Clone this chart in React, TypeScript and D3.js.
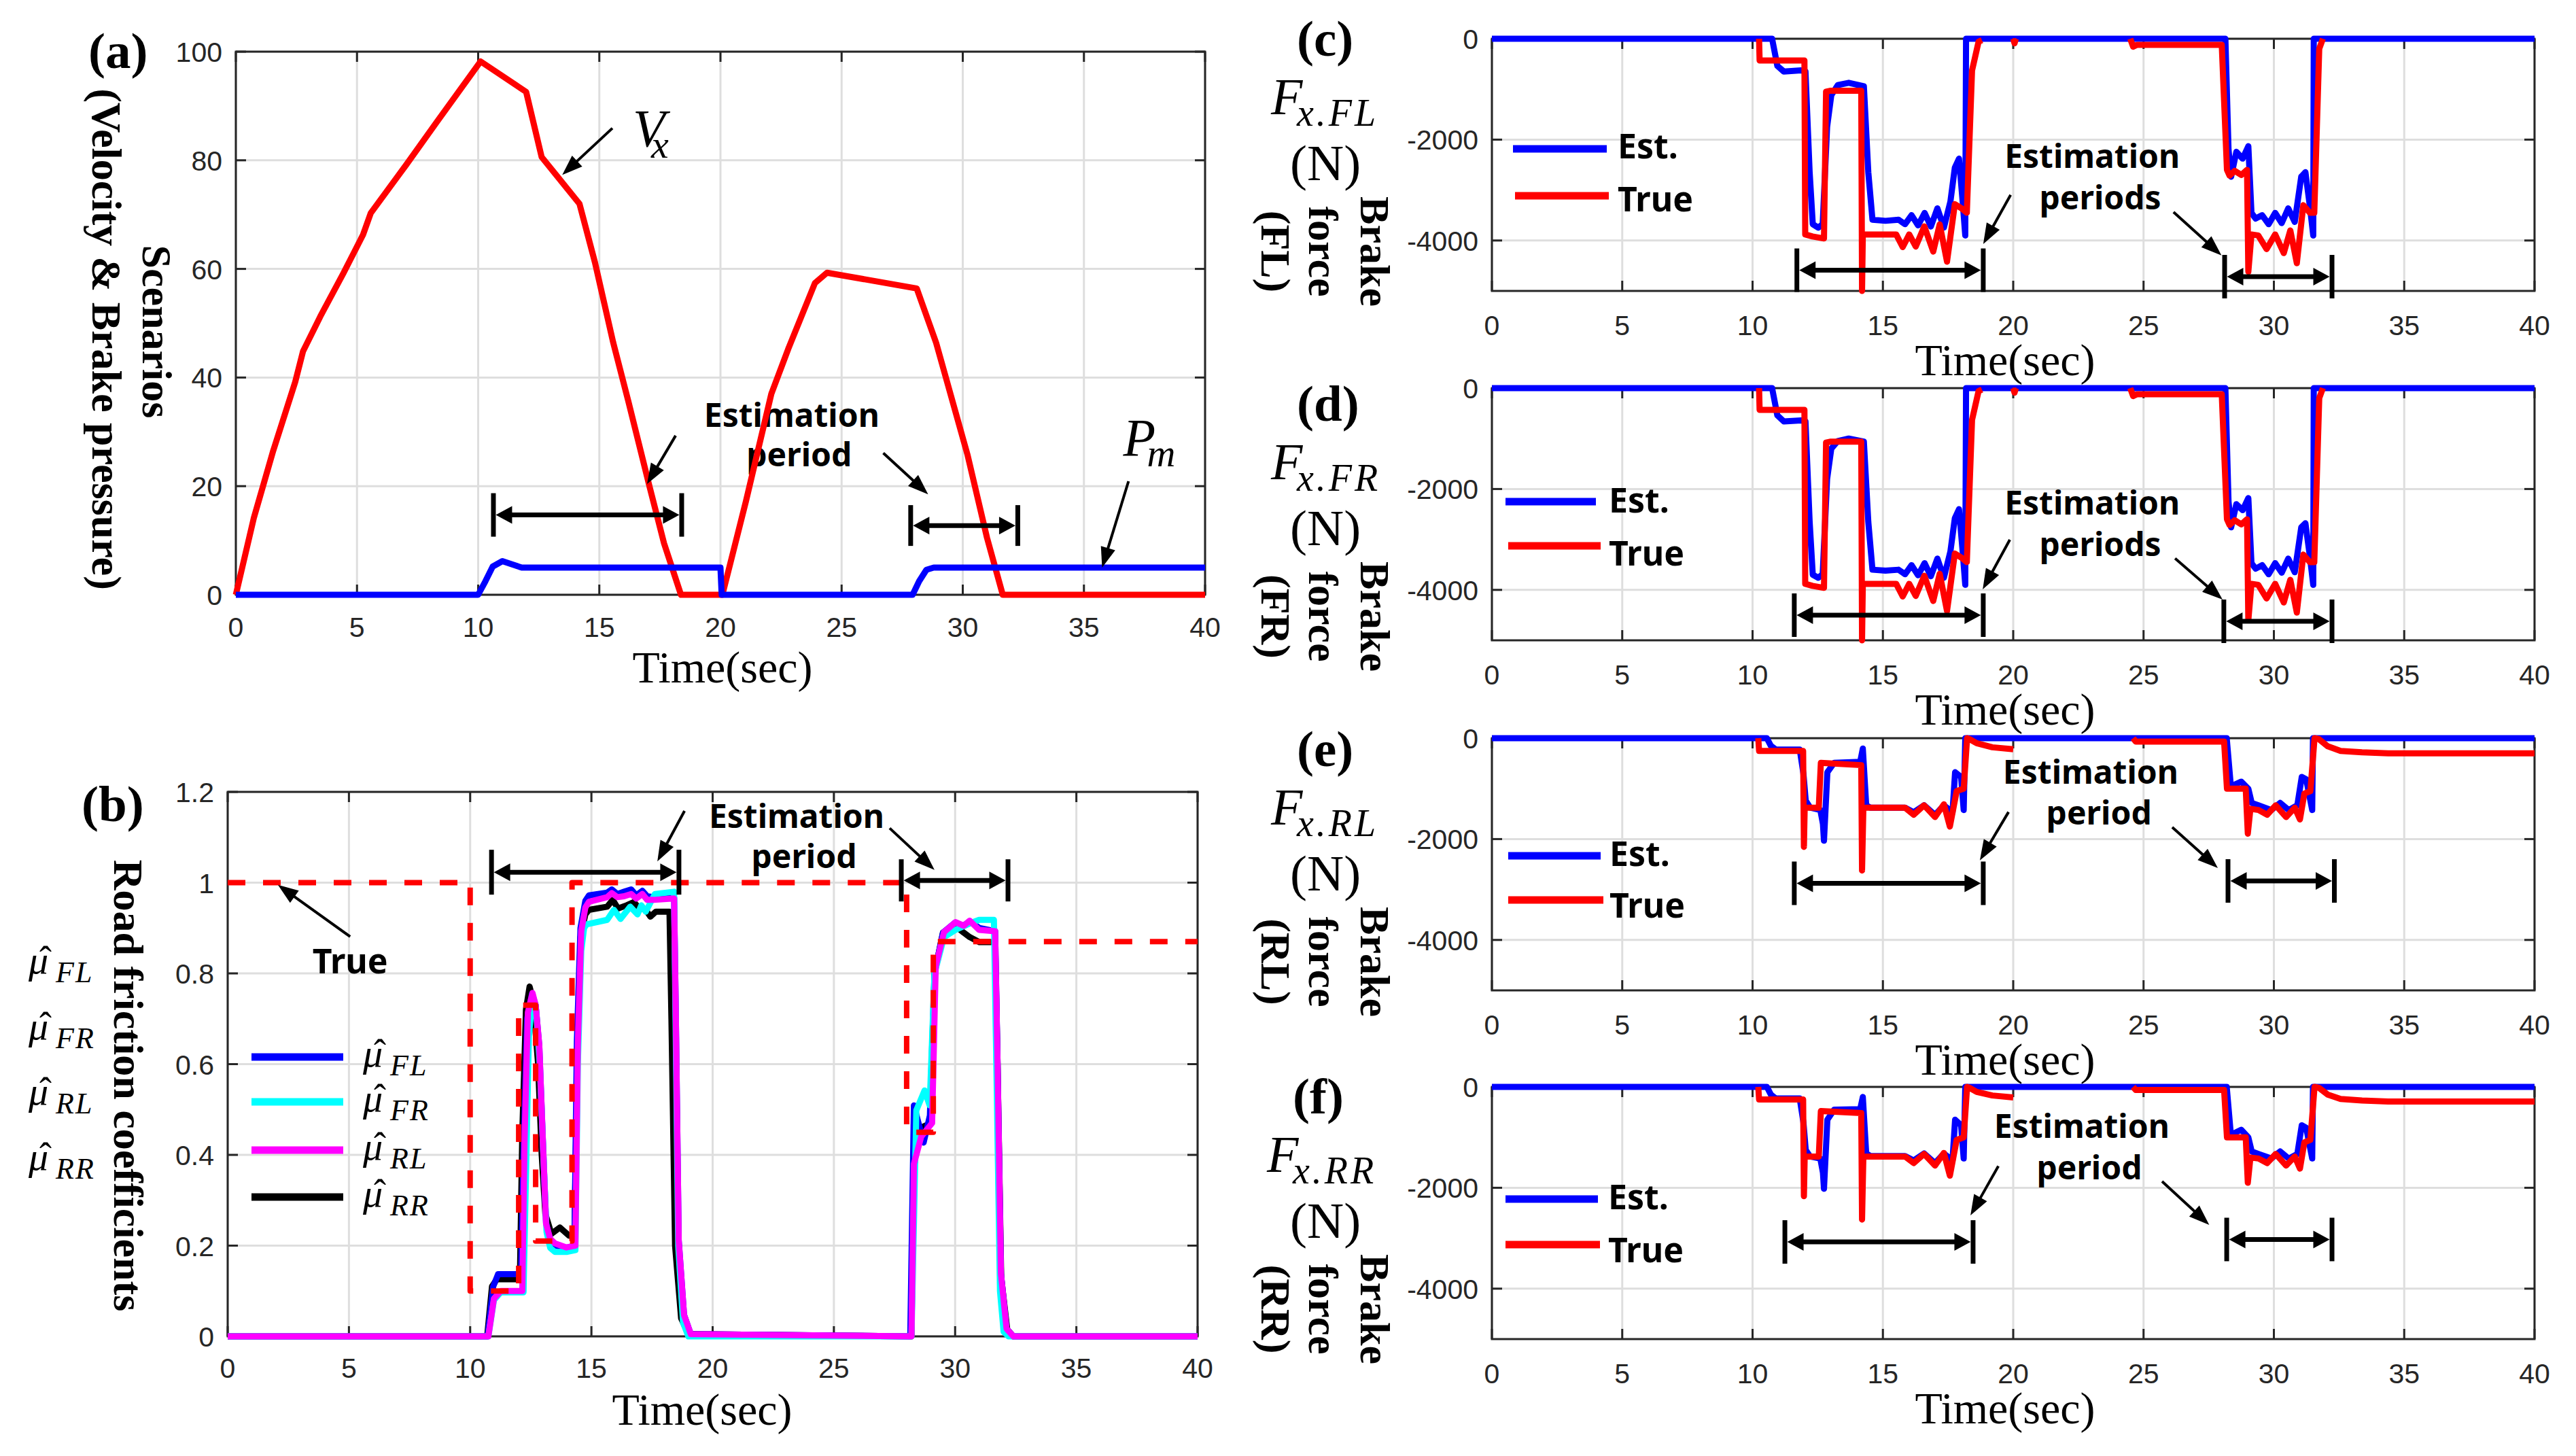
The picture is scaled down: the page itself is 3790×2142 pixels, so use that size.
import React from "react";
import * as d3 from "d3";

// ---------- tick values ----------
const timeTicks = [0, 5, 10, 15, 20, 25, 30, 35, 40];
const scenTicks = [0, 20, 40, 60, 80, 100];
const muTicks = [0, 0.2, 0.4, 0.6, 0.8, 1, 1.2];
const forceTicks = [-4000, -2000, 0];

// ---------- (a) scenario ----------
const vxTime = [0, 0.74, 1.54, 2.45, 2.77, 3.48, 4.44, 5.25, 5.57, 7.02, 8.3, 10.1, 11.98, 12.62, 14.18, 14.82, 15.57, 16.2, 17.08, 17.67, 18.37, 20.08, 21.05, 22.1, 22.8, 23.9, 24.4, 28.1, 28.9, 30.2, 31.0, 31.65, 40];
const vxValue = [0, 14.1, 26.5, 39.2, 44.8, 51.2, 59.2, 66.3, 70.3, 79.1, 87.1, 98.2, 92.6, 80.6, 72.0, 61.2, 46.5, 35.6, 19.8, 9.5, 0, 0, 17.2, 37, 45.3, 57.4, 59.3, 56.4, 46.4, 25.7, 10.5, 0, 0];
const pmTime = [0, 10.0, 10.3, 10.6, 11.0, 11.4, 11.8, 20.0, 20.05, 27.93, 28.2, 28.5, 28.8, 40];
const pmValue = [0, 0, 2.5, 5.2, 6.2, 5.6, 5.0, 5.0, 0, 0, 2.5, 4.6, 5.0, 5.0];

// ---------- (b) friction ----------
const muTrueTime = [0, 10, 10, 12, 12, 12.7, 12.7, 14.2, 14.2, 28, 28, 29.1, 29.1, 40];
const muTrueValue = [1, 1, 0.1, 0.1, 0.73, 0.73, 0.21, 0.21, 1, 1, 0.45, 0.45, 0.87, 0.87];

const muRRTime = [0, 10.7, 10.9, 11.1, 12.05, 12.15, 12.3, 12.45, 12.6, 12.8, 12.95, 13.1, 13.35, 13.7, 14.08, 14.3, 14.42, 14.55, 14.75, 14.9, 15.65, 15.88, 16.1, 16.45, 16.75, 16.95, 17.24, 17.43, 17.66, 18.22, 18.3, 18.45, 18.7, 19.0, 28.2, 28.3, 28.6, 29.0, 29.15, 29.5, 30.0, 30.35, 30.6, 31.0, 31.65, 31.75, 31.9, 32.15, 32.4, 40];
const muRRValue = [0, 0, 0.11, 0.126, 0.126, 0.45, 0.72, 0.771, 0.74, 0.6, 0.4, 0.27, 0.226, 0.24, 0.222, 0.22, 0.6, 0.88, 0.93, 0.94, 0.947, 0.962, 0.943, 0.95, 0.957, 0.945, 0.94, 0.925, 0.936, 0.936, 0.7, 0.2, 0.04, 0.005, 0, 0.42, 0.46, 0.47, 0.8, 0.89, 0.905, 0.89, 0.88, 0.869, 0.869, 0.6, 0.13, 0.015, 0, 0];

const muFLTime = [0, 10.72, 10.95, 11.15, 12.1, 12.2, 12.35, 12.55, 12.7, 12.85, 13.0, 13.13, 13.3, 13.5, 13.97, 14.3, 14.4, 14.55, 14.75, 14.9, 15.65, 15.84, 16.07, 16.35, 16.64, 16.85, 17.1, 17.3, 17.57, 18.41, 18.48, 18.6, 18.82, 19.1, 28.15, 28.3, 28.7, 28.96, 29.15, 29.5, 30.0, 30.35, 30.6, 31.0, 31.65, 31.75, 31.89, 32.12, 32.4, 40];
const muFLValue = [0, 0, 0.11, 0.137, 0.137, 0.4, 0.7, 0.755, 0.73, 0.64, 0.43, 0.25, 0.212, 0.2, 0.195, 0.2, 0.65, 0.9, 0.96, 0.972, 0.978, 0.985, 0.975, 0.98, 0.985, 0.972, 0.982, 0.97, 0.968, 0.968, 0.714, 0.212, 0.047, 0.005, 0, 0.509, 0.427, 0.487, 0.8, 0.89, 0.912, 0.905, 0.915, 0.9, 0.893, 0.6, 0.138, 0.017, 0, 0];

const muFRTime = [0, 10.75, 10.98, 11.26, 12.2, 12.3, 12.42, 12.57, 12.72, 12.87, 13.02, 13.15, 13.3, 13.5, 13.97, 14.34, 14.44, 14.58, 14.7, 14.8, 15.65, 15.93, 16.2, 16.6, 16.9, 17.06, 17.24, 17.62, 18.41, 18.47, 18.58, 18.78, 19.0, 28.2, 28.4, 28.74, 28.95, 29.15, 29.54, 30.02, 30.6, 30.99, 31.6, 31.7, 31.85, 32.0, 32.2, 40];
const muFRValue = [0, 0, 0.08, 0.097, 0.097, 0.35, 0.66, 0.75, 0.72, 0.6, 0.4, 0.23, 0.195, 0.186, 0.186, 0.19, 0.6, 0.85, 0.9, 0.908, 0.918, 0.94, 0.92, 0.947, 0.93, 0.95, 0.936, 0.975, 0.98, 0.7, 0.2, 0.03, 0, 0, 0.498, 0.542, 0.509, 0.8, 0.88, 0.896, 0.91, 0.918, 0.918, 0.6, 0.1, 0.01, 0, 0];

const muRLTime = [0, 10.75, 10.98, 11.26, 12.15, 12.24, 12.38, 12.57, 12.7, 12.85, 13.0, 13.13, 13.3, 13.5, 13.97, 14.34, 14.44, 14.58, 14.75, 14.9, 15.65, 15.84, 16.07, 16.35, 16.64, 16.85, 17.1, 17.3, 17.57, 18.41, 18.48, 18.6, 18.82, 19.1, 28.2, 28.3, 28.6, 29.05, 29.2, 29.54, 30.02, 30.35, 30.6, 30.99, 31.65, 31.75, 31.89, 32.12, 32.4, 40];
const muRLValue = [0, 0, 0.083, 0.1, 0.1, 0.427, 0.714, 0.757, 0.73, 0.642, 0.427, 0.248, 0.215, 0.205, 0.196, 0.2, 0.642, 0.893, 0.945, 0.958, 0.968, 0.977, 0.968, 0.97, 0.975, 0.965, 0.975, 0.962, 0.962, 0.965, 0.714, 0.212, 0.047, 0.005, 0, 0.38, 0.44, 0.47, 0.815, 0.891, 0.913, 0.905, 0.916, 0.896, 0.893, 0.6, 0.138, 0.017, 0, 0];

// ---------- (c) FL brake force ----------
const fxFLEstTime = [0, 10.75, 10.95, 11.2, 11.86, 12.03, 12.19, 12.31, 12.52, 12.69, 12.86, 13.02, 13.27, 13.69, 14.27, 14.44, 14.6, 15.1, 15.6, 15.85, 16.1, 16.35, 16.6, 16.84, 17.09, 17.34, 17.59, 17.76, 17.92, 18.06, 18.16, 18.19, 28.14, 28.26, 28.36, 28.56, 28.8, 29.02, 29.14, 29.3, 29.55, 29.8, 30.05, 30.3, 30.55, 30.8, 31.05, 31.21, 31.38, 31.51, 31.53, 40];
const fxFLEstValue = [0, 0, -538, -650, -628, -650, -2646, -3677, -3744, -3677, -1749, -1121, -919, -874, -941, -2646, -3587, -3610, -3587, -3677, -3498, -3700, -3453, -3722, -3363, -3744, -3229, -2556, -2377, -3229, -3901, 0, 0, -2197, -2735, -2242, -2377, -2130, -3453, -3565, -3498, -3677, -3453, -3655, -3363, -3632, -2735, -2646, -3318, -3901, 0, 0];
const fxFLTrueTime = [10.25, 10.27, 11.99, 12.02, 12.3, 12.74, 12.82, 13.0, 14.17, 14.2, 14.23, 14.44, 15.51, 15.76, 16.01, 16.26, 16.59, 16.93, 17.18, 17.46, 17.76, 18.01, 18.22, 18.42, 18.67, 18.8, 19.0, 20.0, 20.05, 20.1, 22, 24.49, 24.6, 24.75, 28.0, 28.2, 28.3, 28.5, 28.75, 28.97, 29.02, 29.14, 29.4, 29.72, 30.05, 30.38, 30.63, 30.88, 31.13, 31.38, 31.55, 31.74, 31.88];
const fxFLTrueValue = [0, -430, -430, -3880, -3920, -3960, -1050, -1030, -1030, -5000, -3880, -3880, -3880, -4130, -3880, -4120, -3720, -4220, -3680, -4420, -3280, -3360, -3450, -630, -60, -30, NaN, 0, -90, 0, NaN, 0, -157, -120, -120, -2600, -2713, -2620, -2700, -2600, -4620, -3880, -3900, -4170, -3880, -4250, -3800, -4450, -3300, -3450, -3450, -200, 0];

// ---------- (d) FR brake force ----------
const fxFREstTime = [0, 10.75, 10.95, 11.2, 11.86, 12.03, 12.19, 12.31, 12.52, 12.69, 12.86, 13.02, 13.27, 13.69, 14.27, 14.44, 14.6, 15.1, 15.6, 15.85, 16.1, 16.35, 16.6, 16.84, 17.09, 17.34, 17.59, 17.76, 17.92, 18.06, 18.16, 18.19, 28.14, 28.26, 28.36, 28.56, 28.8, 29.02, 29.14, 29.3, 29.55, 29.8, 30.05, 30.3, 30.55, 30.8, 31.05, 31.21, 31.38, 31.51, 31.53, 40];
const fxFREstValue = [0, 0, -540, -660, -640, -660, -2650, -3700, -3760, -3690, -1800, -1200, -1050, -1000, -1060, -2650, -3600, -3620, -3600, -3690, -3510, -3710, -3470, -3730, -3380, -3760, -3240, -2580, -2400, -3240, -3900, 0, 0, -2250, -2760, -2300, -2420, -2180, -3470, -3580, -3510, -3690, -3470, -3660, -3380, -3650, -2760, -2680, -3330, -3900, 0, 0];
const fxFRTrueTime = [10.25, 10.27, 11.99, 12.02, 12.3, 12.74, 12.82, 13.0, 14.17, 14.2, 14.23, 14.44, 15.51, 15.76, 16.01, 16.26, 16.59, 16.93, 17.18, 17.46, 17.76, 18.01, 18.22, 18.42, 18.67, 18.8, 19.0, 20.0, 20.05, 20.1, 22, 24.49, 24.6, 24.75, 28.0, 28.2, 28.3, 28.5, 28.75, 28.97, 29.02, 29.14, 29.4, 29.72, 30.05, 30.38, 30.63, 30.88, 31.13, 31.38, 31.55, 31.74, 31.88];
const fxFRTrueValue = [0, -430, -430, -3880, -3920, -3960, -1080, -1060, -1060, -5000, -3880, -3880, -3880, -4130, -3880, -4120, -3720, -4220, -3680, -4420, -3280, -3360, -3450, -630, -60, -30, NaN, 0, -90, 0, NaN, 0, -157, -120, -120, -2600, -2713, -2620, -2700, -2600, -4600, -3880, -3900, -4170, -3880, -4250, -3800, -4450, -3300, -3450, -3450, -200, 0];

// ---------- (e) RL brake force ----------
const fxRLEstTime = [0, 10.55, 10.7, 10.89, 11.81, 11.95, 12.04, 12.21, 12.6, 12.7, 12.74, 12.87, 13.13, 14.13, 14.23, 14.36, 14.52, 15.85, 16.18, 16.58, 17.0, 17.34, 17.67, 17.77, 18.0, 18.1, 18.16, 28.19, 28.35, 28.75, 29.02, 29.15, 29.41, 29.9, 30.24, 30.57, 30.9, 31.07, 31.24, 31.47, 31.5, 40];
const fxRLEstValue = [0, 0, -150, -225, -225, -700, -1237, -1377, -1424, -1700, -2033, -675, -487, -468, -206, -1330, -1377, -1377, -1470, -1330, -1520, -1330, -1470, -675, -768, -1424, 0, 0, -955, -862, -1002, -1283, -1330, -1424, -1283, -1424, -1330, -768, -815, -1424, 0, 0];
const fxRLTrueTime = [10.22, 10.25, 11.94, 11.97, 12.0, 12.54, 12.62, 14.17, 14.2, 14.25, 14.35, 15.85, 16.18, 16.58, 17.0, 17.34, 17.57, 17.83, 18.1, 18.23, 18.33, 18.6, 19.2, 20.0, 22, 24.6, 24.7, 28.09, 28.2, 28.92, 29.0, 29.1, 29.41, 29.74, 30.07, 30.47, 30.8, 31.0, 31.17, 31.4, 31.56, 31.73, 32.06, 32.56, 33.38, 34.38, 40];
const fxRLTrueValue = [0, -253, -253, -2155, -1377, -1377, -487, -534, -2623, -1400, -1377, -1377, -1518, -1330, -1564, -1311, -1752, -1049, -1002, 0, -20, -100, -180, -220, NaN, 0, -66, -66, -1002, -1002, -1892, -1400, -1424, -1518, -1330, -1564, -1377, -1611, -1096, -1049, 0, -19, -159, -253, -281, -300, -300];

// ---------- (f) RR brake force ----------
const fxRREstTime = [0, 10.55, 10.7, 10.89, 11.81, 11.95, 12.04, 12.21, 12.6, 12.7, 12.74, 12.87, 13.13, 14.13, 14.23, 14.36, 14.52, 15.85, 16.18, 16.58, 17.0, 17.34, 17.67, 17.77, 18.0, 18.1, 18.16, 28.19, 28.35, 28.75, 29.02, 29.15, 29.41, 29.9, 30.24, 30.57, 30.9, 31.07, 31.24, 31.47, 31.5, 40];
const fxRREstValue = [0, 0, -150, -230, -230, -700, -1250, -1380, -1420, -1700, -2020, -650, -450, -440, -200, -1320, -1370, -1370, -1460, -1320, -1510, -1320, -1460, -650, -760, -1420, 0, 0, -950, -850, -1000, -1280, -1330, -1420, -1280, -1420, -1330, -760, -810, -1420, 0, 0];
const fxRRTrueTime = [10.22, 10.25, 11.94, 11.97, 12.0, 12.54, 12.62, 14.17, 14.2, 14.25, 14.35, 15.85, 16.18, 16.58, 17.0, 17.34, 17.57, 17.83, 18.1, 18.23, 18.33, 18.6, 19.2, 20.0, 22, 24.6, 24.7, 28.09, 28.2, 28.92, 29.0, 29.1, 29.41, 29.74, 30.07, 30.47, 30.8, 31.0, 31.17, 31.4, 31.56, 31.73, 32.06, 32.56, 33.38, 34.38, 40];
const fxRRTrueValue = [0, -250, -250, -2167, -1380, -1380, -480, -520, -2630, -1400, -1380, -1380, -1510, -1330, -1560, -1310, -1760, -1050, -1000, 0, -20, -100, -170, -210, NaN, 0, -60, -60, -1000, -1000, -1900, -1400, -1420, -1510, -1330, -1560, -1380, -1620, -1100, -1050, 0, -19, -150, -240, -270, -290, -290];

// ---------- styling ----------
const W = 3790, H = 2142;
const GRID = "#dedede";
const AXC = "#262626";
const FT = "'Liberation Sans', Arial, sans-serif";
const FS = "'Liberation Serif', 'Times New Roman', serif";
const FA = "'Noto Sans', 'Open Sans', sans-serif";
const RED = "#ff0000", BLUE = "#0000ff", CYAN = "#00ffff", MAG = "#ff00ff", BLK = "#000000";

type Sc = d3.ScaleLinear<number, number>;

function Frame({ x, y, yTicks, yFmt, xTickDy }: { x: Sc; y: Sc; yTicks: number[]; yFmt: (v: number) => string; xTickDy: number }) {
  const [L, R] = x.range();
  const [B, T] = y.range();
  const tl = 15;
  return (
    <g>
      {timeTicks.map((t) => (
        <line key={"gx" + t} x1={x(t)} x2={x(t)} y1={T} y2={B} stroke={GRID} strokeWidth={3} />
      ))}
      {yTicks.map((v) => (
        <line key={"gy" + v} x1={L} x2={R} y1={y(v)} y2={y(v)} stroke={GRID} strokeWidth={3} />
      ))}
      {timeTicks.map((t) => (
        <g key={"tx" + t}>
          <line x1={x(t)} x2={x(t)} y1={B} y2={B - tl} stroke={AXC} strokeWidth={3} />
          <line x1={x(t)} x2={x(t)} y1={T} y2={T + tl} stroke={AXC} strokeWidth={3} />
          <text x={x(t)} y={B + xTickDy} textAnchor="middle" fontFamily={FT} fontSize={41} fill={AXC}>
            {t}
          </text>
        </g>
      ))}
      {yTicks.map((v) => (
        <g key={"ty" + v}>
          <line x1={L} x2={L + tl} y1={y(v)} y2={y(v)} stroke={AXC} strokeWidth={3} />
          <line x1={R} x2={R - tl} y1={y(v)} y2={y(v)} stroke={AXC} strokeWidth={3} />
          <text x={L - 20} y={y(v) + 15} textAnchor="end" fontFamily={FT} fontSize={41} fill={AXC}>
            {yFmt(v)}
          </text>
        </g>
      ))}
      <rect x={L} y={T} width={R - L} height={B - T} fill="none" stroke={AXC} strokeWidth={3} />
    </g>
  );
}

function Curve({ x, y, t, v, color, width = 9, dash }: { x: Sc; y: Sc; t: number[]; v: number[]; color: string; width?: number; dash?: string }) {
  const gen = d3
    .line<number>()
    .defined((i) => !Number.isNaN(v[i]))
    .x((i) => x(t[i]))
    .y((i) => y(v[i]));
  return (
    <path d={gen(t.map((_, i) => i)) ?? ""} fill="none" stroke={color} strokeWidth={width} strokeLinejoin="round" strokeDasharray={dash} />
  );
}

function Arrow({ x1, y1, x2, y2 }: { x1: number; y1: number; x2: number; y2: number }) {
  const dx = x2 - x1, dy = y2 - y1;
  const L = Math.hypot(dx, dy);
  const ux = dx / L, uy = dy / L;
  const len = 30, half = 11;
  const bx = x2 - ux * len, by = y2 - uy * len;
  const px = -uy, py = ux;
  return (
    <g>
      <line x1={x1} y1={y1} x2={bx + ux * 4} y2={by + uy * 4} stroke={BLK} strokeWidth={4} />
      <polygon points={`${x2},${y2} ${bx + px * half},${by + py * half} ${bx - px * half},${by - py * half}`} fill={BLK} />
    </g>
  );
}

function DoubleArrow({ xa, xb, y, h = 33 }: { xa: number; xb: number; y: number; h?: number }) {
  const len = 24, half = 13;
  const a = xa + 3.5, b = xb - 3.5;
  return (
    <g>
      <line x1={xa} x2={xa} y1={y - h} y2={y + h} stroke={BLK} strokeWidth={7} />
      <line x1={xb} x2={xb} y1={y - h} y2={y + h} stroke={BLK} strokeWidth={7} />
      <line x1={a + len - 2} x2={b - len + 2} y1={y} y2={y} stroke={BLK} strokeWidth={7} />
      <polygon points={`${a},${y} ${a + len},${y - half} ${a + len},${y + half}`} fill={BLK} />
      <polygon points={`${b},${y} ${b - len},${y - half} ${b - len},${y + half}`} fill={BLK} />
    </g>
  );
}

function EstText({ x1, y1, x2, y2, word2 }: { x1: number; y1: number; x2: number; y2: number; word2: string }) {
  return (
    <g fontFamily={FA} fontWeight={700} fontSize={48} fill={BLK} textAnchor="middle">
      <text x={x1} y={y1}>Estimation</text>
      <text x={x2} y={y2}>{word2}</text>
    </g>
  );
}

function RotLabel({ x, y, text, size = 62 }: { x: number; y: number; text: string; size?: number }) {
  return (
    <text transform={`translate(${x},${y}) rotate(90)`} textAnchor="middle" fontFamily={FS} fontWeight={700} fontSize={size} fill={BLK}>
      {text}
    </text>
  );
}

function MuLabel({ x, y, sub }: { x: number; y: number; sub: string }) {
  return (
    <g fontFamily={FS} fontStyle="italic" fill={BLK}>
      <text x={x} y={y} fontSize={58}>μ</text>
      <text x={x + 25} y={y - 2} fontSize={54} textAnchor="middle" fontStyle="normal">ˆ</text>
      <text x={x + 40} y={y + 13} fontSize={44} letterSpacing={2}>{sub}</text>
    </g>
  );
}

// ---------- scales ----------
const xa = d3.scaleLinear().domain([0, 40]).range([347, 1773]);
const ya = d3.scaleLinear().domain([0, 100]).range([875, 76]);
const xb = d3.scaleLinear().domain([0, 40]).range([335, 1762]);
const yb = d3.scaleLinear().domain([0, 1.2]).range([1966, 1165]);
const xr = d3.scaleLinear().domain([0, 40]).range([2195, 3729]);

type RP = {
  letter: string; sub: string; wheel: string; top: number; labelTop: number; letterX: number; fX: number;
  estT: number[]; estV: number[]; trueT: number[]; trueV: number[];
  leg: { bx1: number; bx2: number; by: number; rx1: number; rx2: number; ry: number; tx: number; tyE: number; tyT: number };
  text: [number, number, number, number, string];
  arrows: [number, number, number, number][];
  doubles: [number, number, number][];
};

const rightPanels: RP[] = [
  {
    letter: "(c)", sub: "x.FL", wheel: "(FL)", top: 57, labelTop: 32, letterX: 1908, fX: 1870,
    estT: fxFLEstTime, estV: fxFLEstValue, trueT: fxFLTrueTime, trueV: fxFLTrueValue,
    leg: { bx1: 2226, bx2: 2364, by: 219, rx1: 2229, rx2: 2367, ry: 288, tx: 2380, tyE: 233, tyT: 311 },
    text: [23.03, -2561, 23.34, -3377, "periods"],
    arrows: [[19.9, -3097, 18.85, -4069], [26.15, -3437, 27.99, -4295]],
    doubles: [[11.7, 18.85, -4589], [28.11, 32.23, -4717]],
  },
  {
    letter: "(d)", sub: "x.FR", wheel: "(FR)", top: 571, labelTop: 569, letterX: 1908, fX: 1870,
    estT: fxFREstTime, estV: fxFREstValue, trueT: fxFRTrueTime, trueV: fxFRTrueValue,
    leg: { bx1: 2215, bx2: 2348, by: 738, rx1: 2219, rx2: 2355, ry: 803, tx: 2367, tyE: 754, tyT: 832 },
    text: [23.03, -2507, 23.34, -3329, "periods"],
    arrows: [[19.87, -3005, 18.83, -3989], [26.21, -3376, 28.03, -4191]],
    doubles: [[11.6, 18.85, -4501], [28.08, 32.23, -4623]],
  },
  {
    letter: "(e)", sub: "x.RL", wheel: "(RL)", top: 1086, labelTop: 1077, letterX: 1908, fX: 1870,
    estT: fxRLEstTime, estV: fxRLEstValue, trueT: fxRLTrueTime, trueV: fxRLTrueValue,
    leg: { bx1: 2219, bx2: 2355, by: 1259, rx1: 2219, rx2: 2359, ry: 1324, tx: 2368, tyE: 1274, tyT: 1350 },
    text: [22.97, -903, 23.29, -1712, "period"],
    arrows: [[19.82, -1464, 18.72, -2422], [26.1, -1765, 27.85, -2574]],
    doubles: [[11.6, 18.85, -2877], [28.24, 32.32, -2830]],
  },
  {
    letter: "(f)", sub: "x.RR", wheel: "(RR)", top: 1599, labelTop: 1588, letterX: 1902, fX: 1864,
    estT: fxRREstTime, estV: fxRREstValue, trueT: fxRRTrueTime, trueV: fxRRTrueValue,
    leg: { bx1: 2215, bx2: 2351, by: 1764, rx1: 2215, rx2: 2354, ry: 1831, tx: 2366, tyE: 1779, tyT: 1857 },
    text: [22.63, -1011, 22.92, -1833, "period"],
    arrows: [[19.43, -1571, 18.36, -2547], [25.71, -1873, 27.52, -2736]],
    doubles: [[11.24, 18.46, -3074], [28.19, 32.23, -3025]],
  },
];

function RightPanel({ p }: { p: RP }) {
  const y = d3.scaleLinear().domain([-5000, 0]).range([p.top + 371, p.top]);
  const B = p.top + 371;
  const lt = p.labelTop;
  return (
    <g>
      <Frame x={xr} y={y} yTicks={forceTicks} yFmt={(v) => String(v)} xTickDy={65} />
      <EstText x1={xr(p.text[0])} y1={y(p.text[1])} x2={xr(p.text[2])} y2={y(p.text[3])} word2={p.text[4]} />
      <Curve x={xr} y={y} t={p.estT} v={p.estV} color={BLUE} />
      <Curve x={xr} y={y} t={p.trueT} v={p.trueV} color={RED} />
      {p.arrows.map((a, i) => (
        <Arrow key={i} x1={xr(a[0])} y1={y(a[1])} x2={xr(a[2])} y2={y(a[3])} />
      ))}
      {p.doubles.map((d, i) => (
        <DoubleArrow key={i} xa={xr(d[0])} xb={xr(d[1])} y={y(d[2])} h={32} />
      ))}
      {/* legend */}
      <line x1={p.leg.bx1} x2={p.leg.bx2} y1={p.leg.by} y2={p.leg.by} stroke={BLUE} strokeWidth={11} />
      <line x1={p.leg.rx1} x2={p.leg.rx2} y1={p.leg.ry} y2={p.leg.ry} stroke={RED} strokeWidth={11} />
      <g fontFamily={FA} fontWeight={700} fontSize={50} fill={BLK}>
        <text x={p.leg.tx} y={p.leg.tyE}>Est.</text>
        <text x={p.leg.tx} y={p.leg.tyT}>True</text>
      </g>
      {/* labels */}
      <text x={2950} y={B + 124} textAnchor="middle" fontFamily={FS} fontSize={66} fill={BLK}>Time(sec)</text>
      <text x={p.letterX} y={lt + 50} fontFamily={FS} fontWeight={700} fontSize={75} fill={BLK}>{p.letter}</text>
      <g fontFamily={FS} fontStyle="italic" fill={BLK}>
        <text x={p.fX} y={lt + 136} fontSize={76}>F</text>
        <text x={p.fX + 38} y={lt + 153} fontSize={56} letterSpacing={4}>{p.sub}</text>
      </g>
      <text x={1898} y={lt + 233} fontFamily={FS} fontSize={75} fill={BLK}>(N)</text>
      <RotLabel x={2002} y={lt + 338} text="Brake" />
      <RotLabel x={1926} y={lt + 338} text="force" />
      <RotLabel x={1856} y={lt + 338} text={p.wheel} />
    </g>
  );
}

export default function App() {
  const fmtMu = (v: number) => String(+v.toFixed(1));
  const legY = [1555, 1621, 1692, 1761];
  const legCols = [BLUE, CYAN, MAG, BLK];
  const legSubs = ["FL", "FR", "RL", "RR"];
  const leftMuY = [1432, 1529, 1625, 1721];
  return (
    <svg width={W} height={H} viewBox={`0 0 ${W} ${H}`} style={{ position: "absolute", left: 0, top: 0, background: "#fff" }}>
      <rect x={0} y={0} width={W} height={H} fill="#fff" />

      {/* ---------------- (a) ---------------- */}
      <Frame x={xa} y={ya} yTicks={scenTicks} yFmt={(v) => String(v)} xTickDy={62} />
      <EstText x1={xa(22.94)} y1={ya(30.9)} x2={xa(23.25)} y2={ya(23.65)} word2="period" />
      <Curve x={xa} y={ya} t={vxTime} v={vxValue} color={RED} />
      <Curve x={xa} y={ya} t={pmTime} v={pmValue} color={BLUE} />
      <Arrow x1={xa(15.54)} y1={ya(85.9)} x2={xa(13.47)} y2={ya(77.3)} />
      <Arrow x1={xa(18.15)} y1={ya(29.3)} x2={xa(16.97)} y2={ya(20.4)} />
      <Arrow x1={xa(26.72)} y1={ya(26.1)} x2={xa(28.57)} y2={ya(18.5)} />
      <Arrow x1={xa(36.84)} y1={ya(20.9)} x2={xa(35.75)} y2={ya(5.0)} />
      <DoubleArrow xa={xa(10.63)} xb={xa(18.4)} y={ya(14.7)} h={32} />
      <DoubleArrow xa={xa(27.85)} xb={xa(32.27)} y={ya(12.75)} h={30} />
      <g fontFamily={FS} fontStyle="italic" fill={BLK}>
        <text x={xa(16.38)} y={ya(82.6)} fontSize={78}>V</text>
        <text x={xa(16.38) + 27} y={ya(82.6) + 17} fontSize={58}>x</text>
        <text x={xa(36.62)} y={ya(25.66)} fontSize={78}>P</text>
        <text x={xa(36.62) + 35} y={ya(25.66) + 16} fontSize={58}>m</text>
      </g>
      <text x={130} y={100} fontFamily={FS} fontWeight={700} fontSize={75} fill={BLK}>(a)</text>
      <RotLabel x={210} y={488} text="Scenarios" />
      <RotLabel x={136} y={499} text="(Velocity & Brake pressure)" />
      <text x={1063} y={1004} textAnchor="middle" fontFamily={FS} fontSize={66} fill={BLK}>Time(sec)</text>

      {/* ---------------- (b) ---------------- */}
      <Frame x={xb} y={yb} yTicks={muTicks} yFmt={fmtMu} xTickDy={61} />
      <Curve x={xb} y={yb} t={muRRTime} v={muRRValue} color={BLK} />
      <Curve x={xb} y={yb} t={muFLTime} v={muFLValue} color={BLUE} />
      <Curve x={xb} y={yb} t={muFRTime} v={muFRValue} color={CYAN} />
      <Curve x={xb} y={yb} t={muRLTime} v={muRLValue} color={MAG} />
      <Curve x={xb} y={yb} t={muTrueTime} v={muTrueValue} color={RED} width={8} dash="26 26" />
      <EstText x1={xb(23.46)} y1={yb(1.1205)} x2={xb(23.77)} y2={yb(1.032)} word2="period" />
      <text x={xb(5.05)} y={yb(0.8)} textAnchor="middle" fontFamily={FA} fontWeight={700} fontSize={50} fill={BLK}>True</text>
      <Arrow x1={xb(5.05)} y1={yb(0.881)} x2={xb(2.07)} y2={yb(0.995)} />
      <Arrow x1={xb(18.84)} y1={yb(1.158)} x2={xb(17.72)} y2={yb(1.047)} />
      <Arrow x1={xb(27.3)} y1={yb(1.12)} x2={xb(29.15)} y2={yb(1.028)} />
      <DoubleArrow xa={xb(10.88)} xb={xb(18.61)} y={yb(1.023)} h={33} />
      <DoubleArrow xa={xb(27.78)} xb={xb(32.18)} y={yb(1.005)} h={31} />
      {legY.map((ly, i) => (
        <g key={"lg" + i}>
          <line x1={370} x2={505} y1={ly} y2={ly} stroke={legCols[i]} strokeWidth={11} />
          <MuLabel x={534} y={ly + 14} sub={legSubs[i]} />
        </g>
      ))}
      {leftMuY.map((my, i) => (
        <MuLabel key={"lm" + i} x={42} y={my} sub={legSubs[i]} />
      ))}
      <text x={120} y={1208} fontFamily={FS} fontWeight={700} fontSize={75} fill={BLK}>(b)</text>
      <RotLabel x={168} y={1597} text="Road friction coefficients" />
      <text x={1033} y={2096} textAnchor="middle" fontFamily={FS} fontSize={66} fill={BLK}>Time(sec)</text>

      {/* ---------------- (c)-(f) ---------------- */}
      {rightPanels.map((p) => (
        <RightPanel key={p.letter} p={p} />
      ))}
    </svg>
  );
}
